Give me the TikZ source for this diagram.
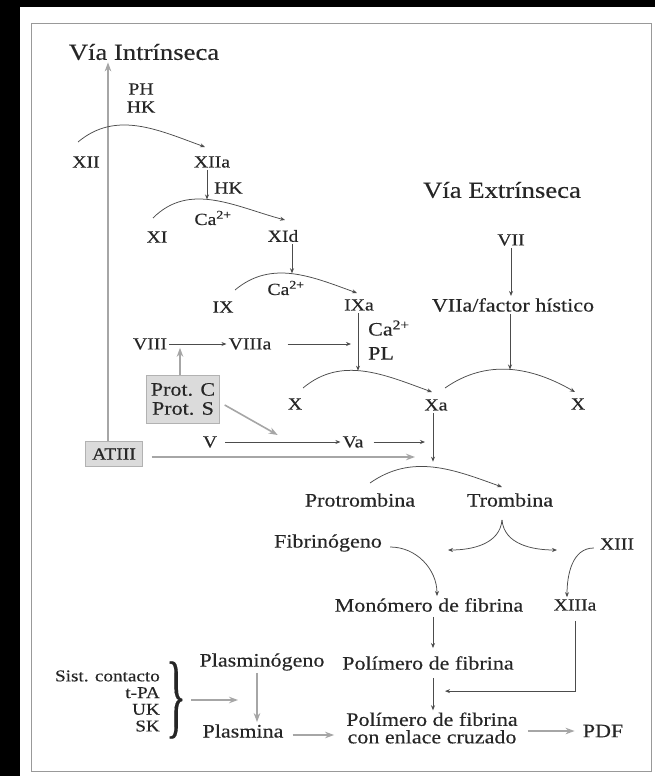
\documentclass[tikz,border=0pt]{standalone}
\usepackage{fontspec}
\setmainfont{Liberation Serif}[FakeStretch=1.16, FakeBold=0.3]
\usetikzlibrary{arrows.meta,calc}

\begin{document}
\begin{tikzpicture}[x=1pt, y=-1pt,
    lbl/.style={font=\fontsize{19}{19}\selectfont, text=black!85, inner sep=2pt},
    fac/.style={font=\fontsize{17}{18}\selectfont, text=black!85, inner sep=2pt},
    ttl/.style={font=\fontsize{23}{26}\selectfont, text=black!85, inner sep=2pt},
    gbox/.style={draw=black!30, fill=black!14},
    arr/.style={-{Stealth[length=5pt, width=4pt]}, draw=black!70, line width=0.75pt},
    garr/.style={-{Stealth[length=9pt, width=6.5pt]}, draw=black!35, line width=1.6pt}
]
% fondo y marco
\fill[black] (0,0) rectangle (655,776);
\fill[white] (20,7) rectangle (655,776);
\draw[black!40, line width=0.8pt] (31,23) rectangle (651,771);
\useasboundingbox (0,0) rectangle (655,776);

% vias
\node[ttl] (intr) at (144,52) {Vía Intrínseca};
\node[ttl] (extr) at (502,190) {Vía Extrínseca};

% via intrinseca
\node[fac, align=center] (phhk) at (141,98) {PH\\HK};
\node[fac] (xii) at (86,162) {XII};
\node[fac] (xiia) at (212,162) {XIIa};
\node[fac, anchor=west] (hk) at (212,188) {HK};
\node[fac] (ca1) at (213,218) {Ca\textsuperscript{2+}};
\node[fac] (xi) at (157,237) {XI};
\node[fac] (xid) at (283,236) {XId};
\node[fac] (ca2) at (286,288) {Ca\textsuperscript{2+}};
\node[fac] (ix) at (223,307) {IX};
\node[fac] (ixa) at (359,305) {IXa};
\node[fac] (viii) at (150,344) {VIII};
\node[fac] (viiia) at (250,344) {VIIIa};
\node[lbl, align=left, anchor=west, font=\fontsize{19}{24}\selectfont] (capl) at (366,340) {Ca\textsuperscript{2+}\\PL};
\node[lbl, gbox, align=center, minimum width=73, minimum height=48] (prot) at (183,399) {Prot. C\\Prot. S};
\node[fac, gbox, minimum width=57, minimum height=25] (atiii) at (114,454) {ATIII};

% via extrinseca
\node[fac] (vii) at (511,240) {VII};
\node[lbl] (viia) at (513,305) {VIIa/factor hístico};

% via comun
\node[fac] (xl) at (295,404) {X};
\node[fac] (xa) at (436,405) {Xa};
\node[fac] (xr) at (578,404) {X};
\node[fac] (v) at (210,442) {V};
\node[fac] (va) at (353,442) {Va};
\node[lbl] (protr) at (360,500) {Protrombina};
\node[lbl] (tromb) at (510,500) {Trombina};
\node[lbl] (fibr) at (328,543) {Fibrinógeno};
\node[fac] (xiii) at (617,544) {XIII};
\node[lbl] (mono) at (429,605) {Monómero de fibrina};
\node[fac] (xiiia) at (575,605) {XIIIa};
\node[lbl] (poli) at (428,663) {Polímero de fibrina};
\node[lbl, align=center, font=\fontsize{19}{17.5}\selectfont] (cruz) at (432,728) {Polímero de fibrina\\con enlace cruzado};
\node[lbl] (pdf) at (603,731) {PDF};

% fibrinolisis
\node[lbl] (plgeno) at (262,662) {Plasminógeno};
\node[lbl] (plas) at (243,731) {Plasmina};
\node[fac, align=right, anchor=east, font=\fontsize{16.5}{16.7}\selectfont] (act) at (162,701) {Sist. contacto\\t-PA\\UK\\SK};
\node[lbl, inner sep=0pt] (brace) at (176,700) {\scalebox{1.9}[4.9]{\}}};
\coordinate (tfib) at (448,550);
\coordinate (txiii) at (557,550);

% flechas grises
\draw[garr] ([xshift=-6pt]atiii.north) -- ([xshift=-6pt]atiii.north |- intr.south);
\draw[garr] ([xshift=-3pt]prot.north) -- ++(0,-27);
\draw[garr] ([shift={(5,6)}]prot.east) -- ++(53,30);
\draw[garr] ([shift={(9,3)}]atiii.east) -- ([shift={(-21,3)}]xa.south |- atiii.east);
\draw[garr] ([xshift=5pt]brace.east) -- ([xshift=-24pt]plgeno.south |- brace.east);
\draw[garr] ([xshift=-5pt]plgeno.south) -- ([xshift=-5pt]plgeno.south |- plas.north);
\draw[garr] ([shift={(7,4)}]plas.east) -- ([shift={(-10,4)}]cruz.west |- plas.east);
\draw[garr] ([xshift=8pt]cruz.east |- pdf.west) -- ([xshift=-6pt]pdf.west);

% flechas oscuras
\draw[arr] ([shift={(-8,-20)}]xii.center) to[out=40, in=160] ([shift={(-7,-15)}]xiia.center);
\draw[arr] ([shift={(-4,-19)}]xi.center) to[out=45, in=165] coordinate[pos=.45] (k1) ([shift={(2,-16)}]xid.center);
\draw[arr] ([xshift=-5pt]xiia.south) -- ([xshift=-5pt]xiia.south |- k1);
\draw[arr] ([shift={(12,-17)}]ix.center) to[out=40, in=160] coordinate[pos=.45] (k2) ([shift={(-2,-12)}]ixa.center);
\draw[arr] ([xshift=9pt]xid.south) -- ([xshift=9pt]xid.south |- k2);
\draw[arr] (viii.east) -- (viiia.west);
\draw[arr] ([xshift=14pt]viiia.east) -- ([xshift=-8pt]ixa.south |- viiia.east);
\draw[arr] ([shift={(8,-16)}]xl.center) to[out=40, in=160] coordinate[pos=.45] (k3) ([shift={(-4,-13)}]xa.center);
\draw[arr] ([xshift=-1pt]ixa.south) -- ([xshift=-1pt]ixa.south |- k3);
\draw[arr] ([shift={(9,-17)}]xa.center) to[out=35, in=150] coordinate[pos=.5] (k4) ([shift={(-3,-12)}]xr.center);
\draw[arr] (vii.south) -- (vii.south |- viia.north);
\draw[arr] ([xshift=-3pt]viia.south) -- ([xshift=-3pt]viia.south |- k4);
\draw[arr] ([xshift=6pt]v.east) -- (va.west);
\draw[arr] ([xshift=8pt]va.east) -- ([xshift=-11pt]xa.south |- va.east);
\draw[arr] ([shift={(10,-17)}]protr.center) to[out=35, in=160] coordinate[pos=.45] (k5) ([shift={(-8,-13)}]tromb.center);
\draw[arr, shorten >=5pt] ([xshift=-3pt]xa.south) -- ([xshift=-3pt]xa.south |- k5);
\draw[arr] ([shift={(-8,20)}]tromb.center) to[out=-95, in=0] (tfib);
\draw[arr] ([shift={(-8,20)}]tromb.center) to[out=-85, in=180] (txiii);
\draw[arr] ([shift={(6,4)}]fibr.east) to[out=0, in=90] ([xshift=8pt]mono.north);
\draw[arr] ([shift={(-4,4)}]xiii.west) to[out=180, in=90] ([xshift=-8pt]xiiia.north);
\draw[arr, shorten <=3pt, shorten >=6pt] ([xshift=4pt]mono.south) -- ([xshift=4pt]mono.south |- poli.north);
\draw[arr, shorten <=6pt] ([xshift=5pt]poli.south) -- ([xshift=5pt]poli.south |- cruz.north);
\draw[arr, shorten <=8pt] (xiiia.south) |- ($(poli.south)!.5!(cruz.north)+(15,0)$);
\end{tikzpicture}
\end{document}
